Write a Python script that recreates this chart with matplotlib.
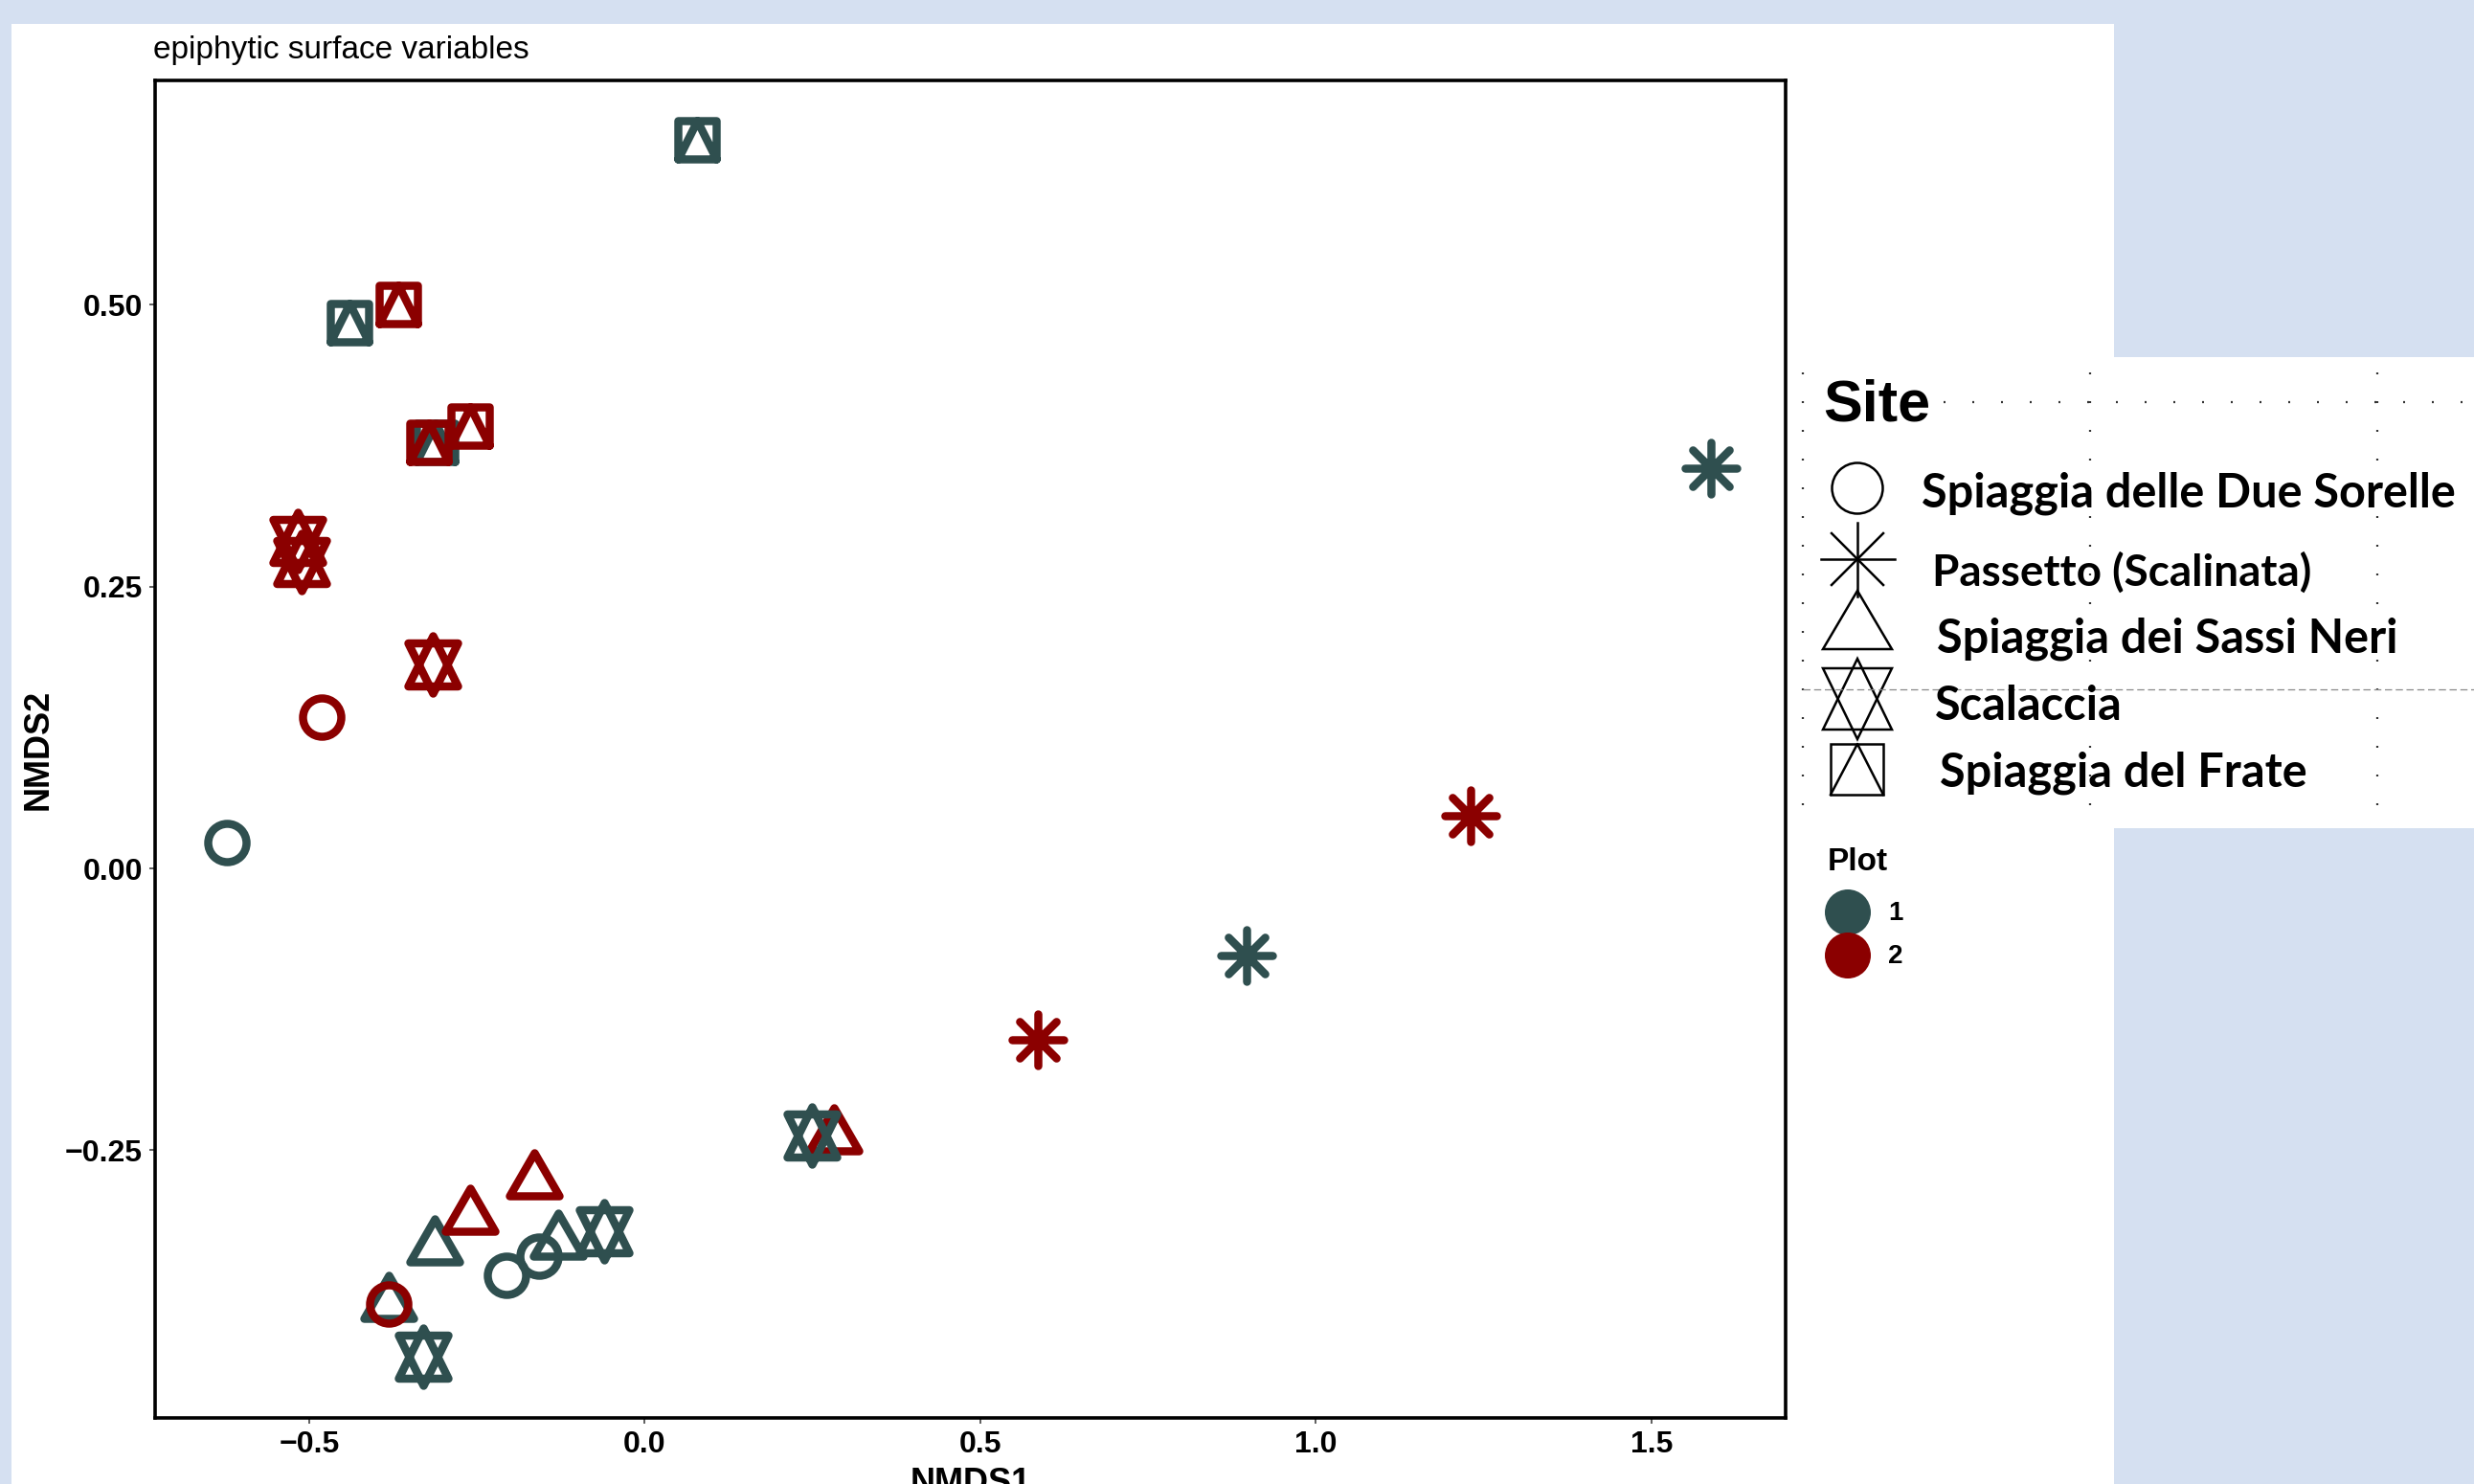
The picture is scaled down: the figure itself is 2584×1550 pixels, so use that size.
import numpy as np
import matplotlib
matplotlib.use("Agg")
import matplotlib.pyplot as plt
from matplotlib.path import Path
from matplotlib.markers import MarkerStyle
from matplotlib.patches import Rectangle, Polygon, Circle

plt.rcParams['font.family'] = 'Liberation Sans'

# NMDS scores (drawing order matters for the overlaps)
nmds1 = [0.282, -0.622, -0.206, -0.158, 1.588, 0.896, -0.313, -0.129, -0.382,
         -0.060, -0.330, 0.249, 0.078, -0.440, -0.311,
         -0.482, -0.382, 1.231, 0.586, -0.164, -0.260, -0.517, -0.511, -0.316,
         -0.367, -0.260, -0.322]
nmds2 = [-0.238, 0.023, -0.361, -0.344, 0.355, -0.077, -0.336, -0.331, -0.386,
         -0.322, -0.433, -0.237, 0.646, 0.484, 0.378,
         0.134, -0.386, 0.047, -0.152, -0.278, -0.309, 0.290, 0.272, 0.181,
         0.500, 0.392, 0.378]
site = [2, 0, 0, 0, 1, 1, 2, 2, 2, 3, 3, 3, 4, 4, 4,
        0, 0, 1, 1, 2, 2, 3, 3, 3, 4, 4, 4]
plot_no = [2, 1, 1, 1, 1, 1, 1, 1, 1, 1, 1, 1, 1, 1, 1,
           2, 2, 2, 2, 2, 2, 2, 2, 2, 2, 2, 2]

site_names = ['Spiaggia delle Due Sorelle', 'Passetto (Scalinata)',
              'Spiaggia dei Sassi Neri', 'Scalaccia', 'Spiaggia del Frate']
plot_names = ['1', '2']
plot_colors = ['#2F4F4F', '#8B0000']

xtick_vals = [-0.5, 0.0, 0.5, 1.0, 1.5]
xtick_labels = ['\u22120.5', '0.0', '0.5', '1.0', '1.5']
ytick_vals = [-0.25, 0.0, 0.25, 0.50]
ytick_labels = ['\u22120.25', '0.00', '0.25', '0.50']

W, H = 2584, 1550
fig = plt.figure(figsize=(W / 100, H / 100), dpi=100)
fig.patch.set_facecolor('#D5E0F1')


def fx(px):
    return px / W


def fy(py):
    return 1 - py / H


# marker shapes like R pch 1, 8, 2, 11, 14 (vertices in pixels)
MV, LT, CL = Path.MOVETO, Path.LINETO, Path.CLOSEPOLY
d = 27 / np.sqrt(2)
h = 30 * np.sqrt(3) / 2
shapes = [
    Path.circle((0, 0), 20),
    Path([(0, -27), (0, 27), (-27, 0), (27, 0), (-d, -d), (d, d), (-d, d), (d, -d)],
         [MV, LT] * 4),
    Path([(0, 30), (h, -15), (-h, -15), (0, 30)], [MV, LT, LT, CL]),
    Path([(0, 30), (h, -22.5), (-h, -22.5), (0, 30),
          (0, -30), (h, 22.5), (-h, 22.5), (0, -30)], [MV, LT, LT, CL] * 2),
    Path([(-20, -20), (20, -20), (20, 20), (-20, 20), (-20, -20),
          (-20, -20), (0, 20), (20, -20)], [MV, LT, LT, LT, CL, MV, LT, LT]),
]

# background panels
bg = fig.add_axes([0, 0, 1, 1], zorder=-5)
bg.set_xlim(0, W)
bg.set_ylim(H, 0)
bg.axis('off')
bg.add_patch(Rectangle((12, 25), 2208 - 12, H - 25, facecolor='white', edgecolor='none'))
bg.add_patch(Rectangle((1870, 373), W - 1870, 865 - 373, facecolor='white', edgecolor='none'))

# main plot
ax = fig.add_axes([fx(161.7), fy(1481), fx(1865) - fx(161.7), (1481 - 84) / H])
for x, y, s, p in zip(nmds1, nmds2, site, plot_no):
    path = shapes[s]
    ms = 2 * np.abs(path.vertices).max() * 0.72
    ax.plot([x], [y], linestyle='none',
            marker=MarkerStyle(path, joinstyle='round', capstyle='round'),
            markersize=ms, markeredgewidth=6.1, markerfacecolor='none',
            markeredgecolor=plot_colors[p - 1])

ax.set_xlim(-0.730, 1.6997)
ax.set_ylim(-0.4873, 0.6987)
ax.set_xticks(xtick_vals, xtick_labels, fontweight='bold')
ax.set_yticks(ytick_vals, ytick_labels, fontweight='bold')
ax.tick_params(length=4.3, width=1.1, color='#333333', labelsize=23, pad=5)
for sp in ax.spines.values():
    sp.set_linewidth(2.6)
    sp.set_color('black')

fig.text(fx(160), fy(61), 'epiphytic surface variables', fontsize=24, va='baseline')
fig.text(fx(40), fy(782.5), 'NMDS2', rotation=90, fontsize=26, fontweight='bold',
         ha='center', va='center')
fig.text(fx(1013.5), fy(1532), 'NMDS1', fontsize=26, fontweight='bold',
         ha='center', va='top')

# pasted "Site" legend
for xv in [1883, 2183, 2483]:
    bg.plot([xv, xv], [389, 850], color='#333333', lw=1.6, linestyle=(0, (0.9, 12.6)))
bg.plot([2030, W], [420, 420], color='#333333', lw=1.6, linestyle=(0, (0.9, 12.6)))
bg.plot([1883, W], [720, 720], color='#888888', lw=0.9, linestyle=(0, (6, 3)))

bg.text(1904, 440, 'Site', fontsize=44, fontweight='bold', va='baseline')
k = dict(fill=False, edgecolor='black', lw=1.8)
bg.add_patch(Circle((1940, 510), 26.5, **k))
for dx, dy in [(0, 38.5), (38.5, 0), (27, 27), (27, -27)]:
    bg.plot([1940 - dx, 1940 + dx], [584 - dy, 584 + dy], color='black', lw=1.8)
bg.add_patch(Polygon([(1940, 617), (1976, 678), (1904, 678)], **k))
bg.add_patch(Polygon([(1940, 688), (1976, 762), (1904, 762)], **k))
bg.add_patch(Polygon([(1940, 772), (1976, 698), (1904, 698)], **k))
bg.add_patch(Rectangle((1912, 777), 55, 53, **k))
bg.plot([1912, 1940, 1967], [830, 777, 830], color='black', lw=1.8)

lab_x = [2007, 2018, 2023, 2021, 2026]
lab_y = [530, 612, 682, 752, 822]
lab_size = [35, 33, 35, 35, 35]
for name, lx, ly, fs in zip(site_names, lab_x, lab_y, lab_size):
    bg.text(lx, ly, name, fontsize=fs, fontweight='bold', family='Lato', va='baseline')

# "Plot" legend
bg.text(1909, 909, 'Plot', fontsize=24, fontweight='bold', va='baseline')
for i, (nm, col) in enumerate(zip(plot_names, plot_colors)):
    cy = 953 + 45 * i
    bg.add_patch(Circle((1930, cy), 24, facecolor=col, edgecolor='none'))
    bg.text(1972, cy + 1, nm, fontsize=20, fontweight='bold', va='center')

fig.savefig('out.png', dpi=100, facecolor=fig.get_facecolor())
